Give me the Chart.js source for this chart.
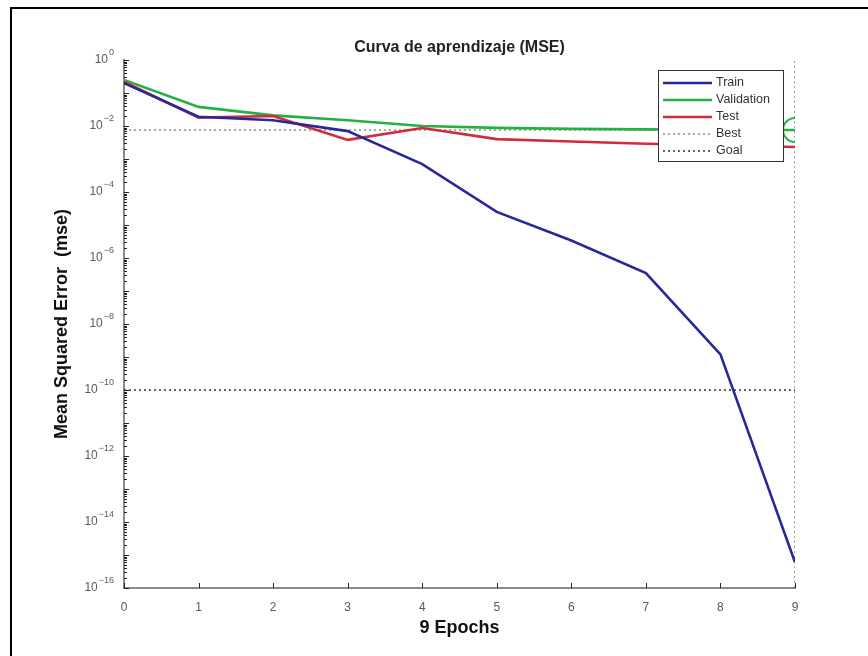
<!DOCTYPE html>
<html><head><meta charset="utf-8">
<script src="https://cdn.jsdelivr.net/npm/chart.js@4.4.0/dist/chart.umd.min.js"></script>
<style>html,body{margin:0;padding:0;background:#fff;}#wrap{width:868px;height:656px;}</style>
</head><body><div id="wrap"><canvas id="c" width="868" height="656"></canvas></div>
<script>
// ---- data ----
const epochs = [0, 1, 2, 3, 4, 5, 6, 7, 8, 9];
const trainMSE = [0.20, 0.019, 0.015, 0.0070, 7.0e-4, 2.5e-5, 3.4e-6, 3.5e-7, 1.2e-9, 6e-16];
const validationMSE = [0.25, 0.038, 0.021, 0.015, 0.010, 0.0088, 0.0082, 0.0079, 0.0077, 0.0076];
const testMSE = [0.22, 0.018, 0.020, 0.0038, 0.0087, 0.0040, 0.0034, 0.0029, 0.0026, 0.0023];
const bestEpoch = 9;
const bestMSE = 0.0076;
const goalMSE = 1e-10;
const yMin = 1e-16, yMax = 1;
const yTickExponents = [0, -2, -4, -6, -8, -10, -12, -14, -16];
const xTickLabels = ['0','1','2','3','4','5','6','7','8','9'];
const seriesNames = ['Train', 'Validation', 'Test', 'Best', 'Goal'];
const titleText = 'Curva de aprendizaje (MSE)';
const xTitleText = '9 Epochs';
const yTitleText = 'Mean Squared Error  (mse)';

const C_TRAIN = '#28289a', C_VAL = '#25b043', C_TEST = '#d42a3e', C_BEST = '#7d957f', C_GOAL = '#333333';
const FONT = '"Liberation Sans", Arial, sans-serif';

const pts = (xs, ys) => xs.map((x, i) => ({x: x, y: ys[i]}));
const lastEpoch = epochs[epochs.length - 1];

const datasets = [
  {label: seriesNames[0], data: pts(epochs, trainMSE), borderColor: C_TRAIN, borderWidth: 2.6, pointRadius: 0, order: 0},
  {label: seriesNames[1], data: pts(epochs, validationMSE), borderColor: C_VAL, borderWidth: 2.6, pointRadius: 0, order: 1},
  {label: seriesNames[2], data: pts(epochs, testMSE), borderColor: C_TEST, borderWidth: 2.6, pointRadius: 0, order: 0.5},
  {label: seriesNames[3], data: [{x: epochs[0], y: bestMSE}, {x: lastEpoch, y: bestMSE}], borderColor: C_BEST, borderWidth: 1.6, borderDash: [2, 3], pointRadius: 0, order: 3},
  {label: seriesNames[3] + ' epoch', data: [{x: bestEpoch, y: yMin}, {x: bestEpoch, y: yMax}], borderColor: C_BEST, borderWidth: 1.6, borderDash: [2, 3], pointRadius: 0, order: 3},
  {label: seriesNames[4], data: [{x: epochs[0], y: goalMSE}, {x: lastEpoch, y: goalMSE}], borderColor: C_GOAL, borderWidth: 1.6, borderDash: [2, 3], pointRadius: 0, order: 3},
  {label: 'best marker', data: [{x: bestEpoch, y: bestMSE}], showLine: false, pointRadius: 12, pointStyle: 'circle', pointBorderColor: C_VAL, pointBackgroundColor: 'rgba(0,0,0,0)', pointBorderWidth: 2, borderColor: C_VAL, order: -1}
];
const legendEntries = [0, 1, 2, 3, 5];

const framePlugin = {
  id: 'frame',
  beforeDraw(chart) {
    const ctx = chart.ctx;
    ctx.save();
    ctx.fillStyle = '#fff';
    ctx.fillRect(0, 0, chart.width, chart.height);
    ctx.strokeStyle = '#000';
    ctx.lineWidth = 2;
    ctx.beginPath();
    ctx.moveTo(11, chart.height);
    ctx.lineTo(11, 8);
    ctx.lineTo(chart.width, 8);
    ctx.stroke();
    ctx.restore();
  }
};

const axisPlugin = {
  id: 'axisDecor',
  afterDatasetsDraw(chart) {
    const ctx = chart.ctx, ys = chart.scales.y, xs = chart.scales.x;
    const ax = chart.chartArea.left, by = chart.chartArea.bottom;
    ctx.save();
    ctx.strokeStyle = '#222';
    ctx.lineWidth = 1;
    for (let d = -16; d <= 0; d++) {
      const y = Math.round(ys.getPixelForValue(Math.pow(10, d))) + 0.5;
      ctx.beginPath(); ctx.moveTo(ax, y); ctx.lineTo(ax + 5, y); ctx.stroke();
      if (d < 0) {
        for (let m = 2; m <= 9; m++) {
          const ym = Math.round(ys.getPixelForValue(m * Math.pow(10, d))) + 0.5;
          ctx.beginPath(); ctx.moveTo(ax, ym); ctx.lineTo(ax + 3, ym); ctx.stroke();
        }
      }
    }
    epochs.forEach(e => {
      const x = Math.round(xs.getPixelForValue(e)) + 0.5;
      ctx.beginPath(); ctx.moveTo(x, by); ctx.lineTo(x, by - 5); ctx.stroke();
    });
    ctx.fillStyle = '#5a5a5a';
    ctx.textBaseline = 'middle';
    yTickExponents.forEach(e => {
      const y = ys.getPixelForValue(Math.pow(10, e));
      const exp = String(e).replace('-', '\u2212');
      ctx.font = '9px ' + FONT;
      const ew = ctx.measureText(exp).width;
      const right = ax - 10;
      ctx.textAlign = 'left';
      ctx.fillText(exp, right - ew, y - 7);
      ctx.font = '12px ' + FONT;
      ctx.textAlign = 'right';
      ctx.fillText('10', right - ew - 1, y);
    });
    ctx.restore();
  }
};

const legendPlugin = {
  id: 'boxLegend',
  afterDraw(chart) {
    const ctx = chart.ctx;
    const bx = 658, by = 70, bw = 125, bh = 91;
    ctx.save();
    ctx.fillStyle = '#fff';
    ctx.fillRect(bx, by, bw, bh);
    ctx.strokeStyle = '#333';
    ctx.lineWidth = 1;
    ctx.strokeRect(bx + 0.5, by + 0.5, bw, bh);
    ctx.font = '12.5px ' + FONT;
    ctx.textBaseline = 'middle';
    ctx.textAlign = 'left';
    legendEntries.forEach((di, k) => {
      const ds = chart.data.datasets[di];
      const y = by + 13 + k * 17;
      ctx.strokeStyle = ds.borderColor;
      ctx.lineWidth = ds.borderDash ? 1.6 : 2.6;
      ctx.setLineDash(ds.borderDash || []);
      ctx.beginPath(); ctx.moveTo(bx + 5, y); ctx.lineTo(bx + 54, y); ctx.stroke();
      ctx.setLineDash([]);
      ctx.fillStyle = '#333';
      ctx.fillText(ds.label, bx + 58, y);
    });
    ctx.restore();
  }
};

new Chart(document.getElementById('c'), {
  type: 'line',
  data: {datasets: datasets},
  plugins: [framePlugin, axisPlugin, legendPlugin],
  options: {
    responsive: false,
    animation: false,
    devicePixelRatio: 1,
    layout: {padding: {left: 0, right: 73, top: 0, bottom: 0}},
    plugins: {
      legend: {display: false},
      tooltip: {enabled: false},
      title: {display: true, fullSize: false, text: titleText, color: '#222', font: {family: FONT, size: 16, weight: 'bold'}, padding: {top: 38.4, bottom: 2.4}}
    },
    scales: {
      x: {
        type: 'linear', min: 0, max: 9,
        grid: {display: false},
        border: {display: true, color: '#8a8a8a', width: 2},
        ticks: {stepSize: 1, color: '#5a5a5a', font: {family: FONT, size: 12}, padding: 4,
                callback: (v) => xTickLabels[v] !== undefined ? xTickLabels[v] : ''},
        title: {display: true, text: xTitleText, color: '#111', font: {family: FONT, size: 18, weight: 'bold'}, padding: {top: 0, bottom: 17}},
        afterFit: (s) => { s.height = 68; }
      },
      y: {
        type: 'logarithmic', min: yMin, max: yMax,
        grid: {display: false},
        border: {display: true, color: '#8a8a8a', width: 2},
        ticks: {display: false},
        title: {display: true, text: yTitleText, color: '#111', font: {family: FONT, size: 18, weight: 'bold'}, padding: {top: 51, bottom: 0}},
        afterFit: (s) => { s.width = 124; }
      }
    }
  }
});
</script>
</body></html>
